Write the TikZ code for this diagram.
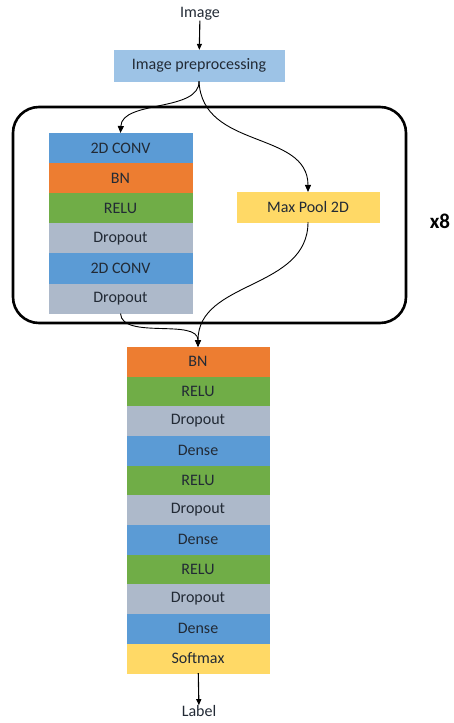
\documentclass[tikz,border=0pt]{standalone}
\usepackage{fontspec}
\setmainfont{Carlito}
\usetikzlibrary{arrows.meta, positioning}
\definecolor{nnblue}{HTML}{5B9BD5}
\definecolor{nnlight}{HTML}{9DC3E6}
\definecolor{nnorange}{HTML}{ED7D31}
\definecolor{nngreen}{HTML}{70AD47}
\definecolor{nngray}{HTML}{ADB9CA}
\definecolor{nnyellow}{HTML}{FFD966}
\definecolor{nntext}{HTML}{222A35}

\begin{document}
\begin{tikzpicture}[x=1pt, y=-1pt,
    layer/.style={rectangle, inner sep=0pt, minimum width=143pt, minimum height=29.8pt,
                 fill=#1, draw=#1, line width=0.3pt,
                 text=nntext, font=\fontsize{16}{19}\selectfont},
    blayer/.style={layer=#1, minimum width=142pt, minimum height=29.35pt},
    lbl/.style={inner sep=0pt, text=nntext, font=\fontsize{16}{19}\selectfont},
    arr/.style={-{Triangle[length=6pt, width=5pt]}, line width=1.1pt, draw=black},
    curv/.style={-{Triangle[length=7pt, width=6pt]}, line width=0.9pt, draw=black}
  ]
    \useasboundingbox (0,0) rectangle (454,723);

    % input
    \node[lbl] (img) at (200,14) {Image};
    \node[layer=nnlight, minimum width=170pt, minimum height=31pt] (pre) at (199,65.5) {Image preprocessing};
    \draw[arr] (img) -- (pre);

    % repeated block
    \node[draw, line width=2.6pt, rounded corners=26pt, minimum width=393pt, minimum height=216pt] (loop) at (209.5,215) {};
    \node[font=\fontsize{21}{24}\selectfont\bfseries] (rep) at (440,221) {x8};

    \node[layer=nnblue, anchor=north] (c1) at (120.5,133) {2D CONV};
    \node[layer=nnorange, below=0pt of c1] (bn1) {BN};
    \node[layer=nngreen, below=0pt of bn1] (relu1) {RELU};
    \node[layer=nngray, below=0pt of relu1] (drop1) {Dropout};
    \node[layer=nnblue, below=0pt of drop1] (c2) {2D CONV};
    \node[layer=nngray, below=0pt of c2] (drop2) {Dropout};

    \node[layer=nnyellow, minimum width=142pt] (mp) at (308,207) {Max Pool 2D};

    % head
    \node[blayer=nnorange, anchor=north] (bn2) at (198,347) {BN};
    \node[blayer=nngreen, below=0pt of bn2] (relu2) {RELU};
    \node[blayer=nngray, below=0pt of relu2] (drop3) {Dropout};
    \node[blayer=nnblue, below=0pt of drop3] (d1) {Dense};
    \node[blayer=nngreen, below=0pt of d1] (relu3) {RELU};
    \node[blayer=nngray, below=0pt of relu3] (drop4) {Dropout};
    \node[blayer=nnblue, below=0pt of drop4] (d2) {Dense};
    \node[blayer=nngreen, below=0pt of d2] (relu4) {RELU};
    \node[blayer=nngray, below=0pt of relu4] (drop5) {Dropout};
    \node[blayer=nnblue, below=0pt of drop5] (d3) {Dense};
    \node[blayer=nnyellow, below=0pt of d3] (soft) {Softmax};

    \node[lbl] (out) at (199,711) {Label};

    \draw[curv] (pre.south) .. controls (200,112) and (122,100) .. (c1.north);
    \draw[curv] (pre.south) .. controls (202,150) and (308,130) .. (mp.north);
    \draw[curv] (drop2.south) .. controls (122,340) and (198,318) .. (bn2.north);
    \draw[curv] (mp.south) .. controls (308,290) and (198,280) .. (bn2.north);
    \draw[arr] (soft) -- (out);
  \end{tikzpicture}
\end{document}
